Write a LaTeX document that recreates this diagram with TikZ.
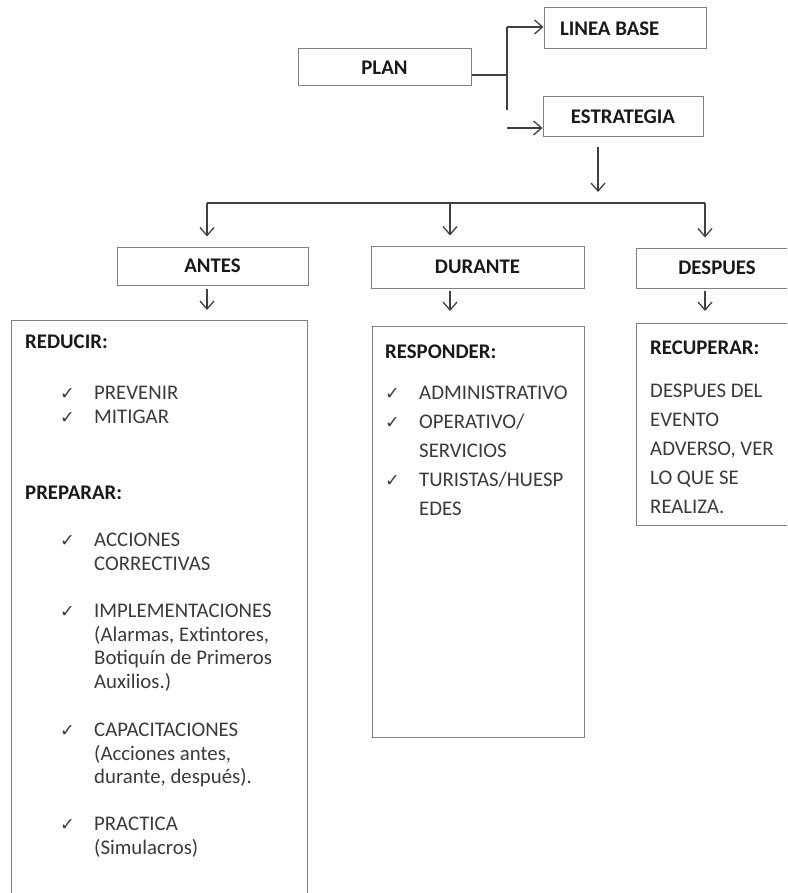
\documentclass[tikz,border=0pt]{standalone}
\usepackage{fontspec}
\setmainfont{Carlito}
\newfontfamily\symbolfont{DejaVu Sans}
\usetikzlibrary{arrows.meta}

\definecolor{boxgray}{HTML}{7F7F7F}
\definecolor{linegray}{HTML}{404040}
\definecolor{txtgray}{HTML}{3A3A3A}
\newcommand{\chk}{{\symbolfont\fontsize{17.5}{17.5}\selectfont ✓}}
\newcommand{\fs}{\fontsize{20.8}{23.7}\selectfont}

\tikzset{
  box/.style={draw=boxgray, line width=1pt, inner sep=0pt},
  head/.style={font=\fs\bfseries, text=black!90},
  conn/.style={draw=linegray, line width=1.3pt},
  arr/.style={conn, -{Straight Barb[length=8pt,width=14pt]}},
  item/.style={anchor=base west, inner sep=0pt, align=left, text=txtgray},
  tick/.style={anchor=base west, inner sep=0pt, text=txtgray},
  label/.style={head, anchor=base west, inner sep=0pt},
}

\begin{document}
\begin{tikzpicture}[x=1pt, y=-1pt, font=\fs]
  \useasboundingbox (0,0) rectangle (787,893);
  \clip (0,0) rectangle (787,893);

  %%% top
  \node[box, head, minimum width=173pt, minimum height=37pt] (plan) at (384.5,67.5) {PLAN};
  \node[box, head, minimum width=162pt, minimum height=41pt] (linea) at (625,28.5) {\makebox[130pt][l]{LINEA BASE}};
  \node[box, head, minimum width=160pt, minimum height=40pt] (estrategia) at (623,117) {ESTRATEGIA};

  \coordinate (fork) at (507,75);
  \coordinate (forktop) at (507,27);
  \coordinate (forkbot) at (507,110);
  \coordinate (forkest) at (507,128);
  \draw[conn] (plan.east |- fork) -- (fork);
  \draw[conn] (forktop) -- (forkbot);
  \draw[arr] (forktop) -- (linea.west |- forktop);
  \draw[arr] (forkest) -- (estrategia.west |- forkest);

  %%% phases
  \node[box, head, minimum width=191pt, minimum height=38pt] (antes) at (212.5,266) {ANTES};
  \node[box, head, minimum width=213pt, minimum height=42pt] (durante) at (477.5,267) {DURANTE};
  \node[box, head, minimum width=162pt, minimum height=40pt] (despues) at (717,268) {DESPUES};

  \coordinate (busS) at (598,203);
  \coordinate (busL) at (207,203);
  \coordinate (busM) at (450,203);
  \coordinate (busR) at (705,203);
  \draw[arr, shorten <=10pt, shorten >=11pt] (estrategia.south -| busS) -- (busS);
  \draw[conn] (busL) -- (busR);
  \draw[arr, shorten >=10pt] (busL) -- (antes.north -| busL);
  \draw[arr, shorten >=10pt] (busM) -- (durante.north -| busM);
  \draw[arr, shorten >=10pt] (busR) -- (despues.north -| busR);

  %%% lower boxes
  \node[box, minimum width=296pt, minimum height=600pt, anchor=north west] (reducir) at (11,320) {};
  \node[box, minimum width=212pt, minimum height=411pt, anchor=north west] (responder) at (372,326) {};
  \node[box, minimum width=164pt, minimum height=202pt, anchor=north west] (recuperar) at (636,323) {};

  \draw[arr, shorten <=3pt, shorten >=10pt] (antes.south -| busL) -- (reducir.north -| busL);
  \draw[arr, shorten <=2pt, shorten >=15pt] (durante.south -| busM) -- (responder.north -| busM);
  \draw[arr, shorten <=2pt, shorten >=12pt] (despues.south -| busR) -- (recuperar.north -| busR);

  %%% antes (multi-line items are placed by their last baseline)
  \node[label] (reducirhd) at (25,348.5) {REDUCIR:};
  \node[tick] (t1) at (60,399.5) {\chk};
  \node[item] (prevenir) at (94,399.5) {PREVENIR};
  \node[tick] (t2) at (60,423) {\chk};
  \node[item] (mitigar) at (94,423) {MITIGAR};
  \node[label] (prepararhd) at (25,499.5) {PREPARAR:};
  \node[tick] (t3) at (60,546.5) {\chk};
  \node[item] (acciones) at (94,570.2) {ACCIONES\\CORRECTIVAS};
  \node[tick] (t4) at (60,617.5) {\chk};
  \node[item] (implem) at (94,688.6) {IMPLEMENTACIONES\\(Alarmas, Extintores,\\Botiquín de Primeros\\Auxilios.)};
  \node[tick] (t5) at (60,736.5) {\chk};
  \node[item] (capac) at (94,783.9) {CAPACITACIONES\\(Acciones antes,\\durante, después).};
  \node[tick] (t6) at (60,830.5) {\chk};
  \node[item] (practica) at (94,854.2) {PRACTICA\\(Simulacros)};

  %%% durante
  \begin{scope}[font=\fontsize{20.8}{29}\selectfont]
    \node[label] (responderhd) at (385,358.5) {RESPONDER:};
    \node[tick] (t7) at (385,399.5) {\chk};
    \node[item] (admin) at (419,399.5) {ADMINISTRATIVO};
    \node[tick] (t8) at (385,428.5) {\chk};
    \node[item] (operativo) at (419,457.5) {OPERATIVO/\\SERVICIOS};
    \node[tick] (t9) at (385,486.5) {\chk};
    \node[item] (turistas) at (419,515.5) {TURISTAS/HUESP\\EDES};

  %%% despues
    \node[label] (recuperarhd) at (650,354.5) {RECUPERAR:};
    \node[item] (evento) at (650,513.5) {DESPUES DEL\\EVENTO\\ADVERSO, VER\\LO QUE SE\\REALIZA.};
  \end{scope}
\end{tikzpicture}
\end{document}
